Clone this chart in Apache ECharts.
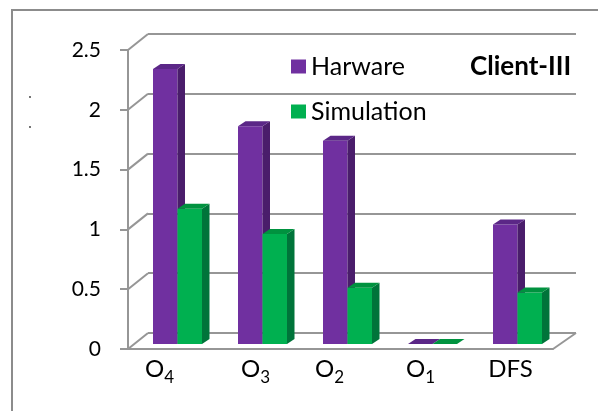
<!DOCTYPE html>
<html>
<head>
<meta charset="utf-8">
<script src="https://cdn.jsdelivr.net/npm/echarts@6/dist/echarts.min.js"></script>
<style>
  html, body { margin: 0; padding: 0; background: #ffffff; }
  #chart { width: 598px; height: 411px; }
</style>
</head>
<body>
<div id="chart"></div>
<script>
// ---- chart data ----
const categories = ['O4', 'O3', 'O2', 'O1', 'DFS'];
const seriesNames = ['Harware', 'Simulation'];
const hardware = [2.3, 1.82, 1.7, 0, 1.0];
const simulation = [1.13, 0.92, 0.47, 0, 0.43];
const yTicks = [0, 0.5, 1, 1.5, 2, 2.5];
const chartTitle = 'Client-III';

// ---- layout & style ----
const FONT = 'Lato, "Liberation Sans", sans-serif';
const LINE = '#969696';
const FRONT = { left: 128, top: 50, width: 425, height: 299 };   // axis plane
const BARS  = { left: 135, top: 45, width: 425, height: 299 };   // bar row, set back a little
const BACK  = { left: 148, top: 34, width: 428, height: 299 };   // back wall
const BAR_RATIO = 24.5 / 85;   // bar width as share of the category band
const BAR_DX = 7.5, BAR_DY = 5; // bar depth
const LABEL_SHIFT = [22, 0, 22, 10, 0]; // extra right padding per category label
const palette = [
  { front: '#7030A0', side: '#4A1D6B', top: '#5B2787' },
  { front: '#00B050', side: '#00743A', top: '#00923F' }
];

function barRenderer(seriesIdx) {
  const c = palette[seriesIdx];
  return function (params, api) {
    const ci = api.value(0);
    const v = api.value(1);
    const base = api.coord([ci, 0]);
    const top = api.coord([ci, v]);
    const band = api.size([1, 0])[0];
    const w = band * BAR_RATIO;
    const x0 = base[0] - w + seriesIdx * w;
    const x1 = x0 + w;
    const yT = top[1], yB = base[1];
    return {
      type: 'group',
      children: [
        { type: 'rect', shape: { x: x0, y: yT, width: w, height: yB - yT },
          style: { fill: c.front } },
        { type: 'polygon', shape: { points: [[x1, yT], [x1 + BAR_DX, yT - BAR_DY], [x1 + BAR_DX, yB - BAR_DY], [x1, yB]] },
          style: { fill: c.side } },
        { type: 'polygon', shape: { points: [[x0, yT], [x0 + BAR_DX, yT - BAR_DY], [x1 + BAR_DX, yT - BAR_DY], [x1, yT]] },
          style: { fill: c.top } }
      ]
    };
  };
}

// diagonal edges joining the front axis to the back wall
function depthRenderer(params, api) {
  const v = api.value(1);
  const y = api.coord([0, v])[1];
  const cs = params.coordSys;
  const dx = BACK.left - FRONT.left, dy = FRONT.top - BACK.top;
  const children = [
    { type: 'line', shape: { x1: cs.x, y1: y, x2: cs.x + dx, y2: y - dy },
      style: { stroke: LINE, lineWidth: 2 } }
  ];
  if (v === 0) {
    const xr = cs.x + cs.width;
    children.push({ type: 'line',
      shape: { x1: xr, y1: y, x2: BACK.left + BACK.width, y2: y - dy },
      style: { stroke: LINE, lineWidth: 2 } });
  }
  return { type: 'group', children: children };
}

const richLabel = {
  o: { fontFamily: FONT, fontSize: 24, color: '#000', lineHeight: 31 }
};
LABEL_SHIFT.forEach(function (s, i) {
  richLabel['s' + i] = { fontFamily: FONT, fontSize: 17, color: '#000', lineHeight: 17,
    verticalAlign: 'top', padding: [15, s, 0, 0] };
  richLabel['p' + i] = { fontFamily: FONT, fontSize: 24, color: '#000', lineHeight: 31,
    padding: [0, s, 0, 0] };
});

function categoryLabel(value, idx) {
  const m = /^([A-Za-z]+)(\d+)$/.exec(value);
  if (m) return '{o|' + m[1] + '}{s' + idx + '|' + m[2] + '}';
  return '{p' + idx + '|' + value + '}';
}

const chart = echarts.init(document.getElementById('chart'), null, { renderer: 'canvas' });

chart.setOption({
  animation: false,
  backgroundColor: '#ffffff',
  title: {
    text: chartTitle, left: 470, top: 54, padding: 0,
    textStyle: { fontFamily: FONT, fontSize: 26, fontWeight: 'bold', color: '#000' }
  },
  legend: {
    data: seriesNames, orient: 'vertical', left: 291, top: 54, padding: 0,
    itemWidth: 15, itemHeight: 14, itemGap: 20, icon: 'rect',
    textStyle: { fontFamily: FONT, fontSize: 25, color: '#000' }
  },
  graphic: [
    { type: 'rect', shape: { x: 12, y: 10, width: 700, height: 600 },
      style: { fill: 'none', stroke: '#8c8c8c', lineWidth: 2 }, silent: true },
    { type: 'circle', shape: { cx: 30, cy: 97, r: 0.9 }, style: { fill: '#333' }, silent: true },
    { type: 'circle', shape: { cx: 30, cy: 127, r: 0.9 }, style: { fill: '#333' }, silent: true }
  ],
  grid: [
    Object.assign({ containLabel: false }, FRONT),
    Object.assign({ containLabel: false }, BARS),
    Object.assign({ containLabel: false }, BACK)
  ],
  xAxis: [
    { gridIndex: 0, type: 'category', data: categories,
      axisLine: { lineStyle: { color: LINE, width: 2 } },
      axisTick: { show: false },
      axisLabel: { margin: 5, formatter: categoryLabel, rich: richLabel } },
    { gridIndex: 1, type: 'category', data: categories, show: false },
    { gridIndex: 2, type: 'category', data: categories, show: false }
  ],
  yAxis: [
    { gridIndex: 0, type: 'value', min: 0, max: 2.5, interval: 0.5,
      axisLine: { show: true, lineStyle: { color: LINE, width: 2 } },
      axisTick: { show: true, length: 8, lineStyle: { color: LINE, width: 2 } },
      splitLine: { show: false },
      axisLabel: { margin: 27, fontFamily: FONT, fontSize: 21, color: '#000',
        formatter: function (v) { return String(v); } } },
    { gridIndex: 1, type: 'value', min: 0, max: 2.5, interval: 0.5, show: false,
      splitLine: { show: false } },
    { gridIndex: 2, type: 'value', min: 0, max: 2.5, interval: 0.5,
      axisLine: { show: false }, axisTick: { show: false }, axisLabel: { show: false },
      splitLine: { show: true, lineStyle: { color: LINE, width: 2 } } }
  ],
  series: [
    { type: 'custom', name: 'depth', xAxisIndex: 0, yAxisIndex: 0, silent: true,
      renderItem: depthRenderer, clip: false,
      data: yTicks.map(function (v) { return [0, v]; }) },
    { type: 'custom', name: seriesNames[0], xAxisIndex: 1, yAxisIndex: 1,
      renderItem: barRenderer(0), clip: false, itemStyle: { color: palette[0].front },
      encode: { x: 0, y: 1 },
      data: hardware.map(function (v, i) { return [i, v]; }) },
    { type: 'custom', name: seriesNames[1], xAxisIndex: 1, yAxisIndex: 1,
      renderItem: barRenderer(1), clip: false, itemStyle: { color: palette[1].front },
      encode: { x: 0, y: 1 },
      data: simulation.map(function (v, i) { return [i, v]; }) }
  ]
});
</script>
</body>
</html>
